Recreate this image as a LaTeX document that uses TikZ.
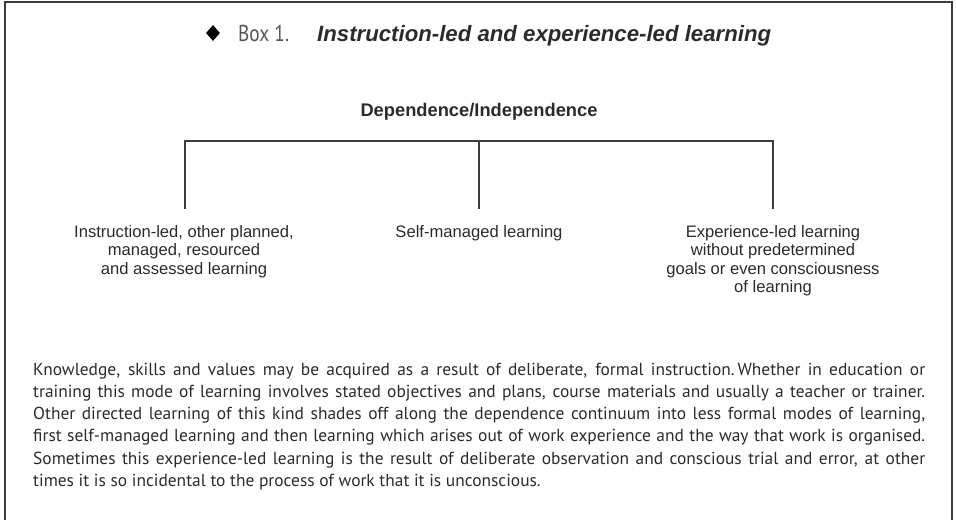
\documentclass[tikz,border=0pt]{standalone}
\usepackage{fontspec}
\usepackage{graphicx}
\setmainfont{PT Sans}
\newfontfamily\arialfont{Liberation Sans}
\usetikzlibrary{shapes.geometric}
\definecolor{ink}{HTML}{2B2B2B}
\definecolor{frameink}{HTML}{3C3C3C}
\definecolor{softink}{HTML}{555555}

\tikzset{
  frameline/.style={draw=frameink, line width=2pt},
  branch/.style={draw=frameink, line width=1.2pt},
  leaf/.style={anchor=base, inner sep=0pt, text=ink},
  bodytext/.style={anchor=base west, inner sep=0pt, text=ink},
}

% a centred block of lines whose baseline is that of its first line
\newcommand{\leafblock}[1]{\parbox[t]{280pt}{\centering\arialfont\fontsize{16.6}{18.5}\selectfont #1}}
% one fully justified line of the paragraph
\newcommand{\jline}[1]{\makebox[892pt][s]{#1}\par}

\begin{document}
\begin{tikzpicture}[x=1pt, y=-1pt]
  \useasboundingbox (0,0) rectangle (956,520);

  % open frame: left, top and right sides
  \draw[frameline] (5,520) -- (5,2) -- (952,2) -- (952,520);

  % heading
  \node[diamond, fill=black, inner sep=0pt, minimum width=14pt, minimum height=16pt] (bullet) at (213,33) {};
  \node[anchor=base west, inner sep=0pt, text=softink] (boxno) at (238,41)
    {\scalebox{0.84}[1]{\fontsize{23}{26}\selectfont Box 1.}};
  \node[anchor=base west, inner sep=0pt, text=ink, font=\arialfont\bfseries\itshape\fontsize{22.2}{26}\selectfont] (title) at (317,41)
    {Instruction-led and experience-led learning};

  % continuum header and its three branches
  \node[anchor=base, inner sep=0pt, text=ink, font=\arialfont\bfseries\fontsize{18.3}{20}\selectfont] (head) at (479,116)
    {Dependence/Independence};

  \coordinate (jl) at (185,141);
  \coordinate (jc) at (479,141);
  \coordinate (jr) at (773,141);
  \coordinate (el) at (185,209);
  \coordinate (ec) at (479,209);
  \coordinate (er) at (773,209);
  \draw[branch] (el) -- (jl) -- (jr) -- (er);
  \draw[branch] (jc) -- (ec);

  \node[leaf] (instr) at (184,237) {\leafblock{Instruction-led, other planned,\\managed, resourced\\and assessed learning}};
  \node[leaf] (self) at (479,237) {\leafblock{Self-managed learning}};
  \node[leaf] (exper) at (773,237) {\leafblock{Experience-led learning\\without predetermined\\goals or even consciousness\\of learning}};

  % explanatory paragraph
  \node[bodytext] (para) at (33,375) {\parbox[t]{892pt}{\fontsize{17.4}{22.3}\selectfont
    \jline{Knowledge, skills and values may be acquired as a result of deliberate, formal instruction.\,Whether in education or}
    \jline{training this mode of learning involves stated objectives and plans, course materials and usually a teacher or trainer.}
    \jline{Other directed learning of this kind shades off along the dependence continuum into less formal modes of learning,}
    \jline{first self-managed learning and then learning which arises out of work experience and the way that work is organised.}
    \jline{Sometimes this experience-led learning is the result of deliberate observation and conscious trial and error, at other}
    times it is so incidental to the process of work that it is unconscious.}};
\end{tikzpicture}
\end{document}
